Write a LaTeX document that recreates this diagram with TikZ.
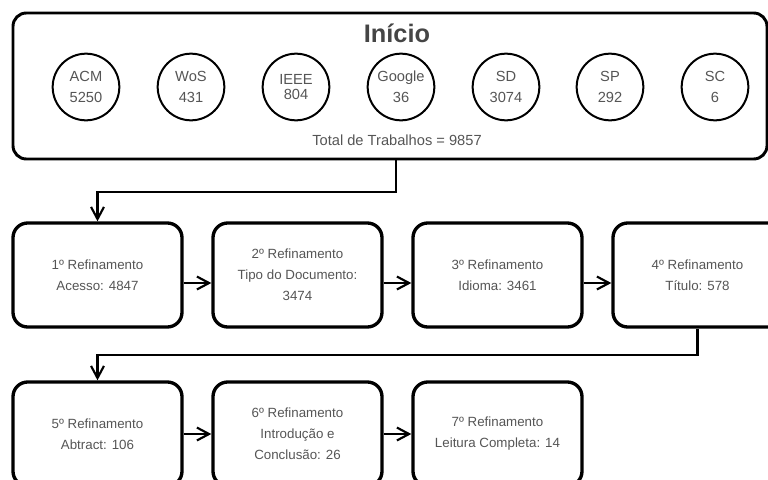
\documentclass[tikz,border=0pt]{standalone}
\usepackage{fontspec}
\setmainfont{Liberation Sans}
\usetikzlibrary{arrows.meta}
\definecolor{txtgray}{HTML}{555555}
\definecolor{titlegray}{HTML}{454545}

\begin{document}
\begin{tikzpicture}[x=0.75pt,y=-0.75pt,
    startbox/.style={draw=black,line width=2.2pt,rounded corners=10pt,minimum width=565.5pt,minimum height=109.5pt,inner sep=0pt},
    refbox/.style={draw=black,line width=2.5pt,rounded corners=11pt,minimum width=126.75pt,minimum height=78pt,inner sep=0pt,align=center,text=txtgray,font=\fontsize{10}{15.75}\selectfont},
    fonte/.style={circle,draw=black,line width=1.5pt,minimum size=50pt,inner sep=0pt,align=center,text=txtgray,font=\fontsize{11}{15.75}\selectfont},
    conn/.style={line width=1.6pt,-{Straight Barb[length=3.2mm,width=3.4mm]}}]
    \useasboundingbox (0,0) rectangle (768,479);
    % caixa inicial com as bases
    \node[startbox] (inicio) at (390,86) {};
    \node[font=\bfseries\fontsize{19}{19}\selectfont,text=titlegray] (titulo) at (397,33) {Início};
    \node[fonte] (acm) at (86,87) {ACM\\5250};
    \node[fonte] (wos) at (191,87) {WoS\\431};
    \node[fonte,font=\fontsize{11}{11}\selectfont] (ieee) at (296,87) {IEEE\\804};
    \node[fonte] (google) at (401,87) {Google\\36};
    \node[fonte] (sd) at (506,87) {SD\\3074};
    \node[fonte] (sp) at (610,87) {SP\\292};
    \node[fonte] (sc) at (715,87) {SC\\6};
    \node[text=txtgray,font=\fontsize{11}{12}\selectfont] (total) at (397,140) {Total de Trabalhos = 9857};
    % refinamentos
    \node[refbox] (ref1) at (97.5,275) {1º Refinamento\\Acesso: 4847};
    \node[refbox] (ref2) at (297.5,275) {2º Refinamento\\Tipo do Documento:\\3474};
    \node[refbox] (ref3) at (497.5,275) {3º Refinamento\\Idioma: 3461};
    \node[refbox] (ref4) at (697.5,275) {4º Refinamento\\Título: 578};
    \node[refbox] (ref5) at (97.5,434) {5º Refinamento\\Abtract: 106};
    \node[refbox] (ref6) at (297.5,434) {6º Refinamento\\Introdução e\\Conclusão: 26};
    \node[refbox] (ref7) at (497.5,434) {7º Refinamento\\Leitura Completa: 14};
    % ligacoes
    \coordinate (j1) at (396,192);
    \draw[conn] (inicio.south -| j1) -- (j1) -| (ref1.north);
    \draw[conn] ([yshift=-6pt]ref1.east) -- ([yshift=-6pt]ref2.west);
    \draw[conn] ([yshift=-6pt]ref2.east) -- ([yshift=-6pt]ref3.west);
    \draw[conn] ([yshift=-6pt]ref3.east) -- ([yshift=-6pt]ref4.west);
    \draw[conn] (ref4.south) -- ++(0,26) -| (ref5.north);
    \draw[conn] (ref5.east) -- (ref6.west);
    \draw[conn] (ref6.east) -- (ref7.west);
\end{tikzpicture}
\end{document}
